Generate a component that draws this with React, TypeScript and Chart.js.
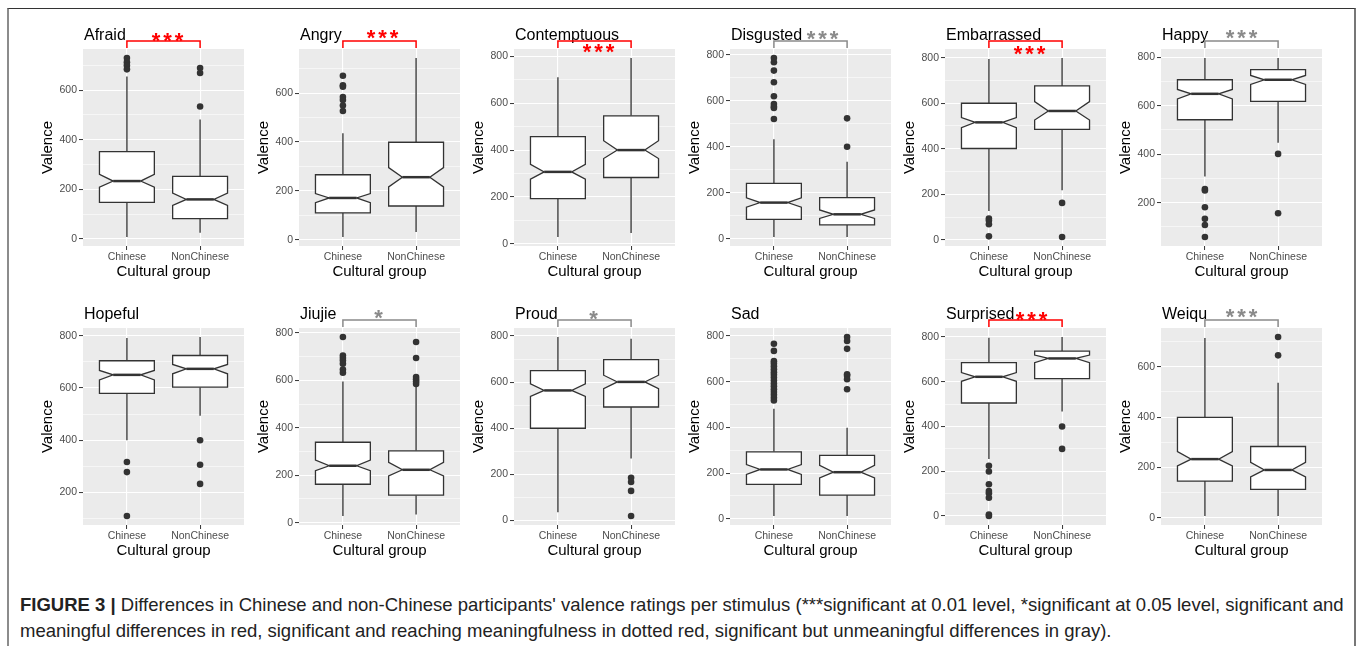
import React, { useEffect, useRef } from 'react';
import { Chart, registerables } from 'chart.js';

Chart.register(...registerables);

// ---------------- DATA ----------------
const STIMULI = ['Afraid', 'Angry', 'Contemptuous', 'Disgusted', 'Embarrassed', 'Happy',
  'Hopeful', 'Jiujie', 'Proud', 'Sad', 'Surprised', 'Weiqu'];
const GROUPS = ['Chinese', 'NonChinese'];

// [lower whisker, Q1, notch low, median, notch high, Q3, upper whisker]
const CHINESE_BOX = [
  [7, 147, 208, 233, 260, 352, 655],
  [11, 110, 152, 171, 189, 266, 436],
  [29, 193, 276, 307, 339, 457, 711],
  [7, 84, 137, 157, 178, 241, 433],
  [126, 401, 493, 516, 537, 600, 794],
  [308, 542, 628, 649, 667, 707, 797],
  [400, 579, 631, 650, 667, 704, 791],
  [28, 162, 219, 240, 264, 339, 595],
  [36, 400, 538, 564, 593, 650, 796],
  [12, 151, 194, 216, 237, 293, 482],
  [255, 505, 602, 622, 641, 685, 797],
  [7, 146, 206, 233, 263, 399, 714],
];
const NONCHINESE_BOX = [
  [24, 81, 135, 159, 184, 252, 482],
  [32, 138, 216, 256, 295, 399, 744],
  [46, 283, 364, 400, 440, 546, 793],
  [7, 60, 88, 106, 125, 179, 335],
  [218, 485, 526, 566, 607, 676, 799],
  [447, 618, 688, 707, 725, 749, 797],
  [494, 603, 654, 673, 690, 724, 795],
  [35, 116, 197, 223, 254, 303, 572],
  [269, 492, 572, 601, 630, 698, 788],
  [12, 104, 179, 204, 234, 278, 399],
  [467, 614, 685, 704, 719, 737, 800],
  [7, 113, 162, 190, 220, 283, 536],
];
const CHINESE_OUTLIERS = [
  [730, 713, 700, 684],
  [671, 632, 626, 584, 572, 549, 527],
  [],
  [787, 768, 732, 681, 620, 586, 575, 569, 521],
  [93, 85, 68, 15],
  [256, 250, 181, 133, 108, 58],
  [317, 278, 110],
  [783, 705, 694, 684, 670, 646, 632],
  [],
  [766, 735, 690, 680, 668, 655, 642, 630, 618, 605, 592, 580, 567, 555, 543, 530, 518],
  [225, 199, 142, 112, 102, 82, 7, 0],
  [],
];
const NONCHINESE_OUTLIERS = [
  [689, 669, 534],
  [],
  [],
  [524, 400],
  [162, 12],
  [401, 156],
  [400, 306, 233],
  [762, 694, 614, 604, 595, 585],
  [185, 167, 128, 19],
  [796, 778, 744, 633, 626, 611, 567],
  [400, 300],
  [718, 645],
];
const SIGNIFICANCE = ['***', '***', '***', '***', '***', '***', '', '*', '*', '', '***', '***'];
const Y_MINOR_STEP = 100;
const Y_MAJOR_STEP = 200;
const Y_AXIS_TITLE = 'Valence';
const X_AXIS_TITLE = 'Cultural group';
const CAPTION_BOLD = 'FIGURE 3 |';
const CAPTION_LINE1 = " Differences in Chinese and non-Chinese participants' valence ratings per stimulus (***significant at 0.01 level, *significant at 0.05 level, significant and";
const CAPTION_LINE2 = 'meaningful differences in red, significant and reaching meaningfulness in dotted red, significant but unmeaningful differences in gray).';

// ---------------- STYLE / LAYOUT ----------------
const FONT = '"Liberation Sans", Arial, Helvetica, sans-serif';
const SIG_COLOR = ['#ff0000', '#ff0000', '#ff0000', '#8a8a8a', '#ff0000', '#8a8a8a', '', '#8a8a8a', '#8a8a8a', '', '#ff0000', '#8a8a8a'];
const STAR_SHIFT = [[4, -5], [3, -8], [4, 6], [12, -7], [4, 8], [0, -8], [0, 0], [-1, -7], [-1, -6], [0, 0], [6, -5], [0, -8]];
const PANEL_X0 = 83;
const PANEL_STEP = 215.6;
const PANEL_W = 161;
const PANEL_H = 197;
const ROW_TOP = [49, 328];
const AXIS_W = 60;
const AXIS_H = 40;
const PAD_TOP = 45;
const PAD_RIGHT = 10;

Chart.defaults.font.family = FONT;

const boxplotPlugin = {
  id: 'boxplotPanel',
  beforeDraw(chart: any) {
    const { ctx, chartArea: a } = chart;
    ctx.save();
    ctx.fillStyle = '#ebebeb';
    ctx.fillRect(a.left, a.top, a.right - a.left, a.bottom - a.top);
    ctx.restore();
  },
  beforeDatasetsDraw(chart: any, _args: any, opts: any) {
    const i = opts.index;
    const { ctx } = chart;
    const xs = chart.scales.x;
    const ys = chart.scales.y;
    [CHINESE_BOX[i], NONCHINESE_BOX[i]].forEach((s, k) => {
      const cx = xs.getPixelForValue(k);
      const hw = xs.getPixelForValue(k + 0.375) - cx;
      const [lw, q1, nlo, med, nhi, q3, uw] = s.map((v: number) => ys.getPixelForValue(v));
      ctx.save();
      ctx.strokeStyle = '#333333';
      ctx.lineWidth = 1.3;
      ctx.beginPath();
      ctx.moveTo(cx, q3); ctx.lineTo(cx, uw);
      ctx.moveTo(cx, q1); ctx.lineTo(cx, lw);
      ctx.stroke();
      ctx.beginPath();
      ctx.moveTo(cx - hw, q3);
      ctx.lineTo(cx + hw, q3);
      ctx.lineTo(cx + hw, nhi);
      ctx.lineTo(cx + hw / 2, med);
      ctx.lineTo(cx + hw, nlo);
      ctx.lineTo(cx + hw, q1);
      ctx.lineTo(cx - hw, q1);
      ctx.lineTo(cx - hw, nlo);
      ctx.lineTo(cx - hw / 2, med);
      ctx.lineTo(cx - hw, nhi);
      ctx.closePath();
      ctx.fillStyle = '#ffffff';
      ctx.fill();
      ctx.stroke();
      ctx.lineWidth = 2.5;
      ctx.beginPath();
      ctx.moveTo(cx - hw / 2, med);
      ctx.lineTo(cx + hw / 2, med);
      ctx.stroke();
      ctx.restore();
    });
  },
  afterDraw(chart: any, _args: any, opts: any) {
    const i = opts.index;
    const { ctx, chartArea: a } = chart;
    const xs = chart.scales.x;
    ctx.save();
    ctx.fillStyle = '#000';
    ctx.font = `16px ${FONT}`;
    ctx.textAlign = 'left';
    ctx.textBaseline = 'alphabetic';
    ctx.fillText(STIMULI[i], a.left + 1, a.top - 9);
    const sig = SIGNIFICANCE[i];
    if (sig) {
      const x0 = xs.getPixelForValue(0);
      const x1 = xs.getPixelForValue(1);
      const y = a.top - 8;
      const color = SIG_COLOR[i];
      ctx.strokeStyle = color;
      ctx.lineWidth = 1.5;
      ctx.beginPath();
      ctx.moveTo(x0, a.top - 1);
      ctx.lineTo(x0, y);
      ctx.lineTo(x1, y);
      ctx.lineTo(x1, a.top - 1);
      ctx.stroke();
      const [dx, dy] = STAR_SHIFT[i];
      const size = 22;
      const spacing = 3;
      ctx.font = `bold ${size}px ${FONT}`;
      (ctx as any).letterSpacing = `${spacing}px`;
      const w = ctx.measureText(sig).width;
      ctx.fillStyle = color;
      ctx.textAlign = 'left';
      ctx.fillText(sig, (x0 + x1) / 2 + dx - (w - spacing) / 2, y + dy + size * 0.55);
    }
    ctx.restore();
  },
};

function yRange(i: number): [number, number] {
  const all = [
    CHINESE_BOX[i][0], CHINESE_BOX[i][6], NONCHINESE_BOX[i][0], NONCHINESE_BOX[i][6],
    ...CHINESE_OUTLIERS[i], ...NONCHINESE_OUTLIERS[i],
  ];
  const lo = Math.min(...all);
  const hi = Math.max(...all);
  const pad = (hi - lo) * 0.05;
  return [lo - pad, hi + pad];
}

const isMajor = (c: any) => !!c.tick && Math.round(c.tick.value) % Y_MAJOR_STEP === 0;

function Panel({ index }: { index: number }) {
  const ref = useRef<HTMLCanvasElement | null>(null);
  const row = Math.floor(index / 6);
  const col = index % 6;
  const gl = PANEL_X0 + PANEL_STEP * col;
  const gt = ROW_TOP[row];
  const cw = AXIS_W + PANEL_W + PAD_RIGHT;
  const chH = PAD_TOP + PANEL_H + AXIS_H;

  useEffect(() => {
    if (!ref.current) return;
    const [ymin, ymax] = yRange(index);
    const tickColor = '#4d4d4d';
    const pointStyle = {
      pointRadius: 3.3,
      pointHoverRadius: 3.3,
      pointBackgroundColor: '#333333',
      pointBorderWidth: 0,
    };
    const chart = new Chart(ref.current, {
      type: 'scatter',
      data: {
        datasets: [
          { data: CHINESE_OUTLIERS[index].map((v) => ({ x: 0, y: v })), ...pointStyle },
          { data: NONCHINESE_OUTLIERS[index].map((v) => ({ x: 1, y: v })), ...pointStyle },
        ],
      },
      options: {
        animation: false,
        responsive: false,
        events: [],
        layout: { padding: { top: PAD_TOP, right: PAD_RIGHT, left: 0, bottom: 0 } },
        plugins: {
          legend: { display: false },
          tooltip: { enabled: false },
          title: { display: false },
          boxplotPanel: { index },
        } as any,
        scales: {
          x: {
            type: 'linear',
            min: -0.6,
            max: 1.6,
            afterBuildTicks: (s: any) => { s.ticks = GROUPS.map((_, k) => ({ value: k })); },
            afterFit: (s: any) => { s.height = AXIS_H; },
            ticks: {
              callback: (v: any) => GROUPS[v] ?? '',
              color: tickColor,
              font: { size: 10.5, family: FONT },
              padding: 1,
              autoSkip: false,
              maxRotation: 0,
            },
            grid: { color: '#ffffff', lineWidth: 1.1, tickLength: 4, tickColor: '#333333', tickWidth: 1 },
            border: { display: false },
            title: { display: true, text: X_AXIS_TITLE, color: '#000', font: { size: 15, family: FONT }, padding: { top: 0, bottom: 5 } },
          },
          y: {
            type: 'linear',
            min: ymin,
            max: ymax,
            afterBuildTicks: (s: any) => {
              const t: { value: number }[] = [];
              for (let v = Math.ceil(s.min / Y_MINOR_STEP) * Y_MINOR_STEP; v <= s.max; v += Y_MINOR_STEP) t.push({ value: v });
              s.ticks = t;
            },
            afterFit: (s: any) => { s.width = AXIS_W; },
            ticks: {
              callback: (v: any) => (Math.round(v) % Y_MAJOR_STEP === 0 ? String(Math.round(v)) : ''),
              color: tickColor,
              font: { size: 10.5, family: FONT },
              padding: 2,
              autoSkip: false,
            },
            grid: {
              color: '#ffffff',
              lineWidth: (c: any) => (isMajor(c) ? 1.1 : 0.55),
              tickLength: 4,
              tickColor: (c: any) => (isMajor(c) ? '#333333' : 'rgba(0,0,0,0)'),
              tickWidth: 1,
            },
            border: { display: false },
            title: { display: true, text: Y_AXIS_TITLE, color: '#000', font: { size: 15, family: FONT }, padding: { top: 16, bottom: 0 } },
          },
        },
      } as any,
      plugins: [boxplotPlugin],
    });
    return () => chart.destroy();
  }, [index]);

  return (
    <canvas
      ref={ref}
      width={cw}
      height={chH}
      style={{ position: 'absolute', left: gl - AXIS_W, top: gt - PAD_TOP, width: cw, height: chH }}
    />
  );
}

export default function App() {
  return (
    <div style={{ position: 'fixed', left: 0, top: 0, width: 1358, height: 646, background: '#fff', overflow: 'hidden', fontFamily: FONT }}>
      <div style={{
        position: 'absolute', left: 7, top: 8, width: 1345, height: 700,
        borderTop: '1px solid #333', borderLeft: '2px solid #8c8c8c', borderRight: '2px solid #777',
      }} />
      {STIMULI.map((_, i) => <Panel key={i} index={i} />)}
      <div style={{ position: 'absolute', left: 20, top: 592, fontSize: 18.5, lineHeight: '26px', color: '#222', whiteSpace: 'nowrap' }}>
        <div><b>{CAPTION_BOLD}</b>{CAPTION_LINE1}</div>
        <div>{CAPTION_LINE2}</div>
      </div>
    </div>
  );
}
